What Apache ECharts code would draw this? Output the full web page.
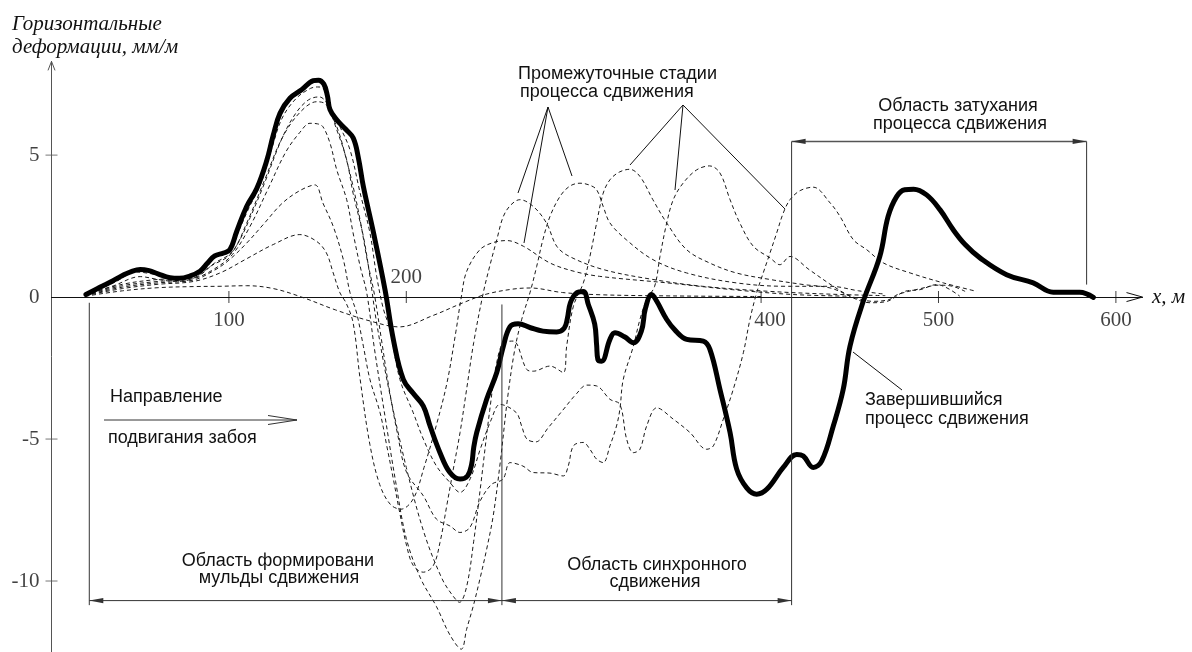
<!DOCTYPE html>
<html>
<head>
<meta charset="utf-8">
<script src="https://cdn.jsdelivr.net/npm/echarts@6/dist/echarts.min.js"></script>
<style>
  html, body { margin: 0; padding: 0; background: #fff; }
  #chart { width: 1192px; height: 652px; }
</style>
</head>
<body>
<div id="chart"></div>
<script>
// Horizontal deformation profiles [x, м ; deformation, мм/м]

// Intermediate stages of the subsidence process (dashed)
const stage0 = [[19,0.03],[40,0.22],[60,0.33],[80,0.37],[95,0.38],[110,0.4],[125,0.3],[141,0],[160,-0.45],[180,-0.85],[196,-1.05],[215,-0.65],[232,-0.2],[245,0.1],[260,0.28],[270,0.32],[288,0.16],[310,0.08],[350,0.04],[400,0.02]];

const stage1 = [[19,0.05],[40,0.3],[60,0.45],[80,0.55],[95,0.85],[110,1.35],[125,1.85],[140,2.2],[149.5,1.96],[155,1.55],[158.8,0.85],[162.6,0.15],[166,-0.2],[170,-0.9],[174,-2.9],[179.5,-5.2],[185,-6.6],[191,-7.3],[197,-7.47],[204,-7.1],[210,-6.0],[217,-4.5],[223,-3.0],[228,-1.2],[231,0],[234,0.9],[241.5,1.67],[249,1.92],[256.6,1.99],[266,1.79],[281,1.2],[295,0.9],[309,0.73],[347,0.5],[384,0.26],[418,0.09],[450,0.03]];

const stage2 = [[19,0.06],[40,0.35],[60,0.5],[80,0.6],[92,0.95],[100,1.3],[110,1.9],[120,2.6],[130,3.3],[140,3.75],[148.5,3.95],[153,3.31],[158.8,2.49],[164.5,1.32],[168.3,0.15],[172,-0.56],[175.8,-1.73],[179.5,-2.9],[185.2,-4.07],[189,-5.24],[192.7,-6.41],[196,-7.5],[200.2,-8.76],[203.9,-9.45],[209.6,-9.69],[215.2,-9.46],[219,-8.64],[222.8,-7.35],[226.5,-6.06],[230.3,-4.77],[234,-3.25],[238,-1.6],[243.4,0.15],[247,1.08],[251,2.02],[254.7,2.84],[259,3.25],[264,3.43],[271.6,3.19],[279,2.61],[284.8,1.79],[292,1.43],[311,0.97],[339,0.62],[367,0.38],[405,0.2],[440,0.1],[470,0.05]];

const stage3 = [[19,0.07],[40,0.4],[60,0.55],[80,0.65],[92,1.0],[102,1.5],[112,2.5],[122,3.8],[132,5.1],[140,5.8],[145.7,6.12],[150,6.1],[153,6.0],[157,5.42],[160.8,4.48],[166.4,3.43],[170,2.26],[174,1.08],[177.7,0.15],[182,-1.8],[188,-4.2],[194,-6.5],[200,-8.5],[208,-9.9],[217,-10.9],[224.6,-11.9],[231,-12.4],[234,-11.7],[237.8,-10.87],[241.5,-9.93],[245.3,-8.88],[249,-7.7],[253,-5.8],[257,-3.6],[261,-1.9],[265,-0.8],[269.7,0.15],[273.5,1.08],[277,2.02],[281,2.84],[286.6,3.54],[292,3.9],[297.9,4.01],[303,3.95],[307.3,3.78],[311,3.19],[314.8,2.61],[324,2.02],[339,1.32],[358,0.85],[386,0.5],[414,0.38],[439,0.38],[455,0.22],[470,0.1]];

const stage4 = [[19,0.08],[40,0.45],[60,0.62],[80,0.68],[92,1.2],[102,1.6],[110,2.6],[120,4.1],[130,5.6],[140,6.5],[149.5,6.88],[155,6.77],[160.8,5.89],[166.4,4.83],[170,3.66],[175.8,2.14],[179.5,0.73],[183,-0.8],[190,-3.2],[200,-6.0],[210,-8.3],[220,-9.9],[226,-10.5],[230,-10.75],[234,-10.2],[238,-8.6],[242,-6.6],[247,-4.0],[251,-2.3],[255,-1.6],[260.3,-1.55],[267.9,-2.55],[271.6,-2.61],[281,-2.43],[288.5,-2.66],[290.4,-1.73],[294.2,-0.32],[299.8,0.5],[303.5,1.43],[307.3,2.61],[311,3.66],[314.8,4.13],[320,4.4],[326,4.5],[331.7,4.25],[339,3.43],[346.8,2.61],[358,1.67],[371,1.2],[386,0.85],[405,0.62],[424,0.44],[439,0.32],[452,0.0],[463,-0.15],[472,-0.09],[477,0.09],[490,0.3],[500,0.42],[508,0.38],[515,0.2]];

const stage5 = [[19,0.08],[35,0.4],[50,0.72],[60,0.62],[70,0.55],[80,0.66],[90,1.1],[100,1.45],[106,2.0],[112,2.8],[120,4.0],[130,5.6],[138,6.5],[145,6.95],[151,7.05],[155,6.85],[158,6.4],[162,5.8],[166,4.9],[170,3.9],[174,2.7],[178,1.3],[182,0.1],[186,-1.5],[190,-3.1],[195,-4.8],[200.2,-6.18],[209.6,-7.0],[217,-7.82],[224.6,-8.06],[230.3,-8.29],[235.9,-8.11],[241.5,-7.2],[248,-6.6],[254.5,-6.41],[258.5,-5.83],[265.7,-5.95],[271.6,-6.18],[281,-6.2],[288.5,-6.3],[291.3,-5.95],[294.2,-5.24],[299.8,-5.12],[303.5,-5.36],[307.3,-5.71],[311,-5.83],[314.8,-5.24],[318.5,-4.54],[320.4,-3.95],[322.3,-2.9],[328,-1.73],[331.7,-0.79],[335.5,-0.09],[340,0.38],[343,1.43],[346.8,2.61],[350.5,3.43],[356,4.01],[363.7,4.48],[371,4.62],[376.8,4.37],[382.5,3.43],[388,2.61],[395.6,1.79],[405,1.38],[410.6,1.14],[416.3,1.43],[427,0.97],[440.7,0.38],[452,-0.03],[461.5,-0.2],[471,-0.15],[481,0.2],[489.6,0.26],[499,0.44],[512,0.03]];

const stage6 = [[19,0.09],[35,0.5],[48,0.88],[58,0.8],[68,0.65],[78,0.72],[86,0.95],[92,1.4],[100,1.6],[105,2.25],[111,3.1],[118,4.0],[124,5.2],[130,6.3],[138,7.0],[146,7.35],[150,7.4],[153.2,7.35],[157,6.71],[162.6,6.0],[168.3,5.18],[174,3.66],[179.5,2.26],[183.3,0.73],[187,-0.4],[190.8,-1.14],[196.4,-2.9],[203.9,-4.07],[209.6,-5.0],[217,-5.95],[224.6,-6.53],[230.3,-6.88],[236,-6.4],[242,-5.3],[248,-4.3],[252.8,-3.78],[262,-4.07],[265,-4.54],[268,-5.0],[273,-5.1],[280,-4.6],[288,-4.0],[296,-3.4],[301.7,-3.1],[307.3,-3.13],[314.8,-3.6],[320.4,-3.78],[324.2,-5.0],[328,-5.48],[331.7,-5.36],[335.5,-4.54],[341.2,-3.9],[350.5,-4.3],[359.9,-4.77],[369.3,-5.36],[373.1,-5.24],[378.7,-4.3],[384.3,-3.25],[390,-1.96],[393.7,-0.79],[397.5,0.15],[401.2,0.85],[405,1.55],[408.8,2.26],[412.5,2.96],[416.3,3.43],[422,3.75],[429.4,3.87],[439,3.31],[444.5,2.84],[452,2.02],[459.5,1.67],[469,1.2],[484,0.85],[502.7,0.5],[521.5,0.2]];

// Completed subsidence process (thick)
const finalStage = [[19.4,0.09],[26,0.3],[33,0.52],[40,0.76],[45,0.9],[50,0.97],[55,0.93],[60,0.82],[66.8,0.68],[72,0.66],[78,0.74],[83.7,0.91],[88,1.2],[92,1.45],[97,1.55],[100.6,1.67],[104.4,2.31],[110,3.19],[115.7,3.82],[121.3,4.8],[125,5.7],[128.8,6.47],[134.4,7.0],[141,7.3],[147.6,7.62],[150.5,7.64],[153.5,7.5],[155.5,7.1],[157,6.6],[160.8,6.24],[166,5.9],[170.1,5.6],[173,4.9],[175.8,3.89],[181.4,2.3],[188,0.26],[192.7,-1.49],[198.3,-2.9],[204,-3.4],[209.6,-3.84],[213.4,-4.54],[219,-5.48],[224.6,-6.18],[230.3,-6.41],[234.5,-6.3],[236.8,-5.9],[238,-5.3],[239.7,-4.77],[245.3,-3.6],[251,-2.66],[254.7,-1.73],[258.5,-1.04],[263,-0.94],[270,-1.08],[277,-1.2],[284.8,-1.23],[289,-1.1],[290.8,-0.75],[292.5,-0.2],[296.1,0.15],[299.8,0.2],[302.6,-0.26],[306.2,-0.95],[307.3,-1.7],[308,-2.2],[310.1,-2.26],[314.8,-1.49],[317.6,-1.26],[323,-1.4],[328,-1.61],[332.5,-1.2],[334.8,-0.4],[338.3,0.09],[341.2,-0.15],[346.8,-0.79],[352,-1.2],[358.1,-1.49],[367.4,-1.55],[371.2,-1.85],[376.8,-3.25],[382.5,-4.77],[386.2,-6.05],[391.9,-6.72],[397.5,-6.94],[403.2,-6.77],[412.5,-6.0],[420.1,-5.54],[423.8,-5.6],[429.4,-6.0],[434.2,-5.77],[440.7,-4.54],[446.3,-3.25],[450.1,-1.73],[457.6,-0.15],[466.9,1.43],[471.6,2.84],[476.4,3.54],[481,3.78],[486,3.8],[493.3,3.6],[500.8,3.08],[508.3,2.37],[515,1.85],[523.4,1.38],[538.4,0.79],[553.4,0.5],[564.7,0.17],[579.6,0.17],[587.3,-0.01]];

// Tick labels
const xTickValues = [100, 200, 400, 500, 600];
const yTickValues = [5, 0, -5, -10];

const stages = [stage0, stage1, stage2, stage3, stage4, stage5, stage6];

const SERIF = '"Liberation Serif", "Times New Roman", serif';
const SANS = '"Liberation Sans", Arial, sans-serif';
const INK = '#111';

const chart = echarts.init(document.getElementById('chart'), null, { renderer: 'canvas' });

const dashedSeries = stages.map((d, i) => ({
  name: 'stage' + i,
  type: 'line',
  data: d,
  showSymbol: false,
  smooth: 0.35,
  lineStyle: { color: '#1a1a1a', width: 1, type: [4, 3] },
  z: 2,
  silent: true
}));

chart.setOption({
  animation: false,
  backgroundColor: '#fff',
  grid: { left: 51.5, top: 61.4, width: 1091, height: 591.7, containLabel: false },
  xAxis: {
    type: 'value', min: 0, max: 615,
    axisLine: { show: true, onZero: true, lineStyle: { color: INK, width: 1 } },
    axisTick: { show: false }, axisLabel: { show: false }, splitLine: { show: false }
  },
  yAxis: {
    type: 'value', min: -12.5, max: 8.3,
    axisLine: { show: true, onZero: false, lineStyle: { color: '#555', width: 1 } },
    axisTick: { show: false }, axisLabel: { show: false }, splitLine: { show: false }
  },
  series: dashedSeries.concat([
    {
      name: 'final',
      type: 'line',
      data: finalStage,
      showSymbol: false,
      smooth: 0.4,
      lineStyle: { color: '#000', width: 5, cap: 'round', join: 'round' },
      z: 4,
      silent: true
    },
    {
      name: 'xTicks',
      type: 'scatter',
      clip: false,
      symbol: 'rect',
      symbolSize: [1, 12],
      itemStyle: { color: INK },
      data: xTickValues.map(v => ({
        value: [v, 0],
        label: v === 200
          ? { position: 'top', distance: 3 }
          : { position: 'bottom', distance: 7, offset: v === 400 ? [9, 0] : [0, 0] }
      })),
      label: {
        show: true,
        formatter: p => String(p.value[0]),
        fontFamily: SERIF, fontSize: 21, color: INK
      },
      z: 5, silent: true
    },
    {
      name: 'yTicks',
      type: 'scatter',
      clip: false,
      symbol: 'rect',
      itemStyle: { color: '#555' },
      data: yTickValues.map(v => ({
        value: [0, v],
        symbolSize: v === 0 ? 0 : [12, 1],
        label: { distance: v === 0 ? 12 : 6 }
      })),
      label: {
        show: true, position: 'left',
        formatter: p => String(p.value[1]),
        fontFamily: SERIF, fontSize: 21, color: INK
      },
      z: 5, silent: true
    }
  ])
});

// Annotation layer: axis arrows, dimension lines, captions and leaders
const P = (x, y) => chart.convertToPixel({ gridIndex: 0 }, [x, y]);
const g = [];
const seg = (pts, color, w) => g.push({
  type: 'polyline', silent: true, z: 10,
  shape: { points: pts },
  style: { stroke: color || INK, lineWidth: w || 1, fill: null }
});
const tri = (tip, dir, color) => {
  // filled arrowhead, dir = +1 points right, -1 points left
  const L = 14, H = 2.6;
  g.push({
    type: 'polygon', silent: true, z: 10,
    shape: { points: [tip, [tip[0] - dir * L, tip[1] - H], [tip[0] - dir * L, tip[1] + H]] },
    style: { fill: color || INK, stroke: null }
  });
};
const txt = (s, x, y, font, align) => g.push({
  type: 'text', silent: true, z: 11,
  style: {
    text: s, x: x, y: y, font: font, fill: INK,
    align: align || 'left', verticalAlign: 'middle',
    textAlign: align || 'left', textVerticalAlign: 'middle'
  }
});

// axis arrowheads (open chevrons)
const xEnd = P(615, 0);
seg([[xEnd[0] - 16, xEnd[1] - 4.5], xEnd, [xEnd[0] - 16, xEnd[1] + 4.5]], INK, 1);
const yEnd = P(0, 8.3);
seg([[yEnd[0] - 3.5, yEnd[1] + 9], yEnd, [yEnd[0] + 3.5, yEnd[1] + 9]], '#555', 1);

// region boundaries and dimension lines
const DIM = '#333';
const b0 = P(21.3, -0.2), b1 = P(253.9, -0.26), b2 = P(417.2, 5.48), b3 = P(583.5, 5.48);
const lowY = P(0, -10.69)[1], lowEnd = P(0, -10.85)[1];
const topY = P(0, 5.48)[1], axY = P(0, 0.44)[1];
seg([[b0[0], b0[1]], [b0[0], lowEnd]], DIM);
seg([[b1[0], b1[1]], [b1[0], lowEnd]], DIM);
seg([[b2[0], topY], [b2[0], lowEnd]], DIM);
seg([[b3[0], topY], [b3[0], axY]], DIM);
seg([[b0[0], lowY], [b2[0], lowY]], DIM);
seg([[b2[0], topY], [b3[0], topY]], '#555', 1.5);
tri([b0[0], lowY], -1, DIM);
tri([b1[0], lowY], 1, DIM);
tri([b1[0], lowY], -1, DIM);
tri([b2[0], lowY], 1, DIM);
tri([b2[0], topY], -1, DIM);
tri([b3[0], topY], 1, DIM);

// face advance direction arrow
seg([[104, 420], [297, 420]], '#333');
seg([[268, 415.5], [297, 420], [268, 424.5]], '#333');

// leader lines
seg([[518, 193], [548, 107], [572, 176]], INK);
seg([[548, 107], [524, 243]], INK);
seg([[630, 165], [683, 105], [785, 209]], INK);
seg([[683, 105], [675, 190]], INK);
seg([[853, 352], [902, 390]], INK);

// captions
const ITAL = 'italic 21px ' + SERIF;
const S18 = '18px ' + SANS;
txt('Горизонтальные', 12, 24, ITAL);
txt('деформации, мм/м', 12, 47, ITAL);
txt('x, м', 1152, 297, ITAL);
txt('Промежуточные стадии', 518, 74, S18);
txt('процесса сдвижения', 520, 92, S18);
txt('Область затухания', 958, 106, S18, 'center');
txt('процесса сдвижения', 960, 124, S18, 'center');
txt('Направление', 110, 397, S18);
txt('подвигания забоя', 108, 438, S18);
txt('Область формировани', 278, 561, S18, 'center');
txt('мульды сдвижения', 279, 578, S18, 'center');
txt('Область синхронного', 657, 565, S18, 'center');
txt('сдвижения', 655, 582, S18, 'center');
txt('Завершившийся', 865, 400, S18);
txt('процесс сдвижения', 865, 419, S18);

chart.setOption({ graphic: { elements: g } });
</script>
</body>
</html>
